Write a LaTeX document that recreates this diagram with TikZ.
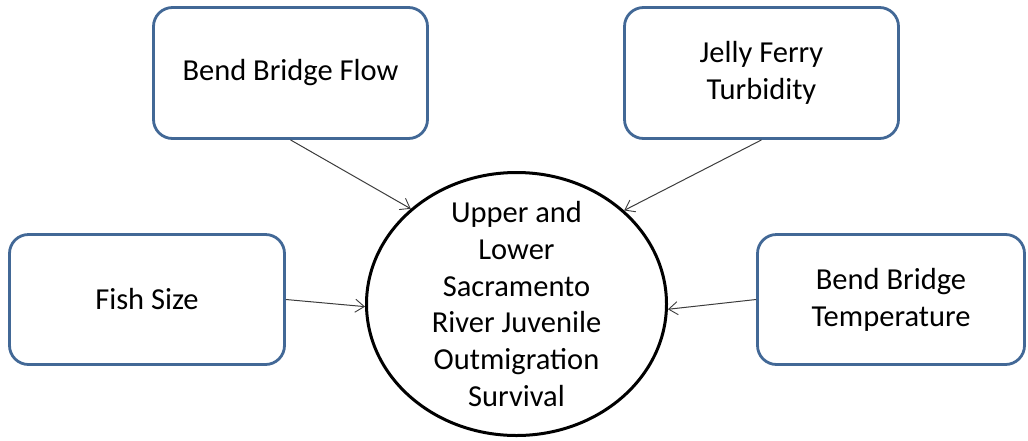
\documentclass[tikz,border=0pt]{standalone}
\usepackage{fontspec}
\setmainfont{Carlito}
\usetikzlibrary{arrows.meta,shapes.geometric}
\definecolor{boxblue}{RGB}{66,104,150}
\definecolor{linegray}{RGB}{60,60,60}
\tikzset{
  every node/.style={font=\fontsize{30.5}{36.8}\selectfont, text=black, align=center, inner sep=0pt},
  factor/.style={draw=boxblue, line width=2.8pt, rounded corners=19pt, fill=white},
  target/.style={draw=black, line width=3pt, ellipse, fill=white},
  link/.style={draw=linegray, line width=1pt, -{Straight Barb[length=9pt,width=13pt,line width=0.9pt]}}
}
\begin{document}
\begin{tikzpicture}[x=1pt,y=-1pt]
\useasboundingbox (0,0) rectangle (1028,440);
\node[factor, minimum width=274pt, minimum height=131pt] (flow) at (290.5,73) {Bend Bridge Flow};
\node[factor, minimum width=274pt, minimum height=131pt] (jelly) at (761.5,73) {Jelly Ferry\\Turbidity};
\node[factor, minimum width=275pt, minimum height=130pt] (fish) at (147,299.5) {Fish Size};
\node[factor, minimum width=267pt, minimum height=130pt] (temp) at (891,299.5) {Bend Bridge\\Temperature};
\node[target, minimum width=300pt, minimum height=263pt] (surv) at (516.5,304) {};
\node (survtext) at (surv.center) {Upper and\\Lower\\Sacramento\\River Juvenile\\Outmigration\\Survival};
\draw[link] (flow.south) -- (surv.138.8);
\draw[link] (jelly.south) -- (surv.41.7);
\draw[link] (fish.east) -- (surv.181);
\draw[link] (temp.west) -- (surv.358.9);
\end{tikzpicture}
\end{document}
